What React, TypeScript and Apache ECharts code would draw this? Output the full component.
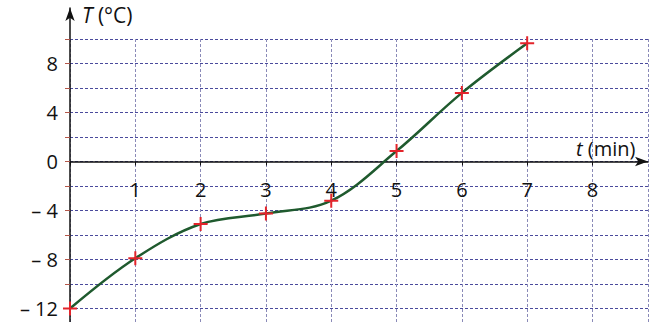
import { useEffect, useRef } from 'react';
import * as echarts from 'echarts';

const tValues = [0, 1, 2, 3, 4, 5, 6, 7];
const temps = [-12, -7.9, -5.1, -4.25, -3.2, 0.85, 5.6, 9.65];
const yLabelStep = 4;

const FONT = '"Open Sans", "Noto Sans", sans-serif';
const PLUS = 'path://M-1,-7 L1,-7 L1,-1 L7,-1 L7,1 L1,1 L1,7 L-1,7 L-1,1 L-7,1 L-7,-1 L-1,-1 Z';

const H = 322;
const GRID_TOP = 39;
const GRID_BOTTOM = -11;
const Y_MIN = -14;
const Y_MAX = 10;

export default function App() {
  const ref = useRef<HTMLDivElement>(null);
  useEffect(() => {
    const chart = echarts.init(ref.current!, null, { renderer: 'svg' });
    const data = tValues.map((t, i) => [t, temps[i]]);
    const gridH = H - GRID_TOP - GRID_BOTTOM;
    // distance from the bottom of the grid up to the zero line
    const zeroOffset = (-Y_MIN / (Y_MAX - Y_MIN)) * gridH;
    chart.setOption({
      animation: false,
      grid: [
        { left: 70, right: 6, top: GRID_TOP, bottom: GRID_BOTTOM, outerBoundsMode: 'none', containLabel: false },
        { left: 70, width: 1, top: 8, bottom: 0, outerBoundsMode: 'none', containLabel: false },
      ],
      xAxis: [
        {
          type: 'value',
          gridIndex: 0,
          position: 'bottom',
          offset: -zeroOffset,
          min: 0,
          max: 8.85,
          interval: 1,
          axisLine: {
            show: true,
            onZero: false,
            symbol: ['none', 'arrow'],
            symbolSize: [7, 13],
            lineStyle: { color: '#111', width: 1.5 },
          },
          axisTick: { show: true, length: 4, lineStyle: { color: '#111' } },
          axisLabel: {
            formatter: (v: number) => (v === 0 || v > 8 ? '' : String(v)),
            margin: 18,
            fontSize: 20,
            fontFamily: FONT,
            color: '#111',
            showMaxLabel: false,
          },
          splitLine: { show: true, lineStyle: { color: '#8a8ab8', type: [3, 2], width: 1 } },
        },
        { type: 'value', gridIndex: 1, show: false, min: 0, max: 1 },
      ],
      yAxis: [
        {
          type: 'value',
          gridIndex: 0,
          min: Y_MIN,
          max: Y_MAX,
          interval: 2,
          axisLine: { show: false, onZero: false },
          axisTick: { show: true, length: 5, lineStyle: { color: '#b4584a' } },
          axisLabel: {
            formatter: (v: number) =>
              v % yLabelStep === 0 && v >= -12 ? (v < 0 ? '\u2013 ' + -v : String(v)) : '',
            margin: 12,
            fontSize: 20,
            fontFamily: FONT,
            color: '#111',
          },
          splitLine: { show: true, lineStyle: { color: '#4a4a9c', type: [3, 2], width: 1 } },
        },
        {
          type: 'value',
          gridIndex: 1,
          min: 0,
          max: 1,
          axisLine: {
            show: true,
            onZero: false,
            symbol: ['none', 'arrow'],
            symbolSize: [7, 13],
            lineStyle: { color: '#111', width: 1.5 },
          },
          axisTick: { show: false },
          axisLabel: { show: false },
          splitLine: { show: false },
        },
      ],
      series: [
        {
          type: 'line',
          xAxisIndex: 0,
          yAxisIndex: 0,
          data,
          smooth: 0.35,
          symbol: PLUS,
          symbolSize: 14,
          itemStyle: { color: '#e3242b' },
          lineStyle: { color: '#1f5a2e', width: 2.5 },
          z: 5,
        },
      ],
      graphic: [
        {
          type: 'text',
          left: 82,
          top: 4,
          style: {
            text: '{i|T} (°C)',
            fontSize: 21,
            fontFamily: FONT,
            fill: '#111',
            rich: { i: { fontStyle: 'italic', fontSize: 21, fontFamily: FONT, fill: '#111' } },
          },
        },
        {
          type: 'text',
          left: 576,
          top: 138,
          style: {
            text: '{i|t} (min)',
            fontSize: 20,
            fontFamily: FONT,
            fill: '#111',
            rich: { i: { fontStyle: 'italic', fontSize: 20, fontFamily: FONT, fill: '#111' } },
          },
        },
      ],
    });
    return () => chart.dispose();
  }, []);
  return (
    <div
      ref={ref}
      style={{ position: 'fixed', left: 0, top: 0, width: 654, height: 322, background: '#fff' }}
    />
  );
}
